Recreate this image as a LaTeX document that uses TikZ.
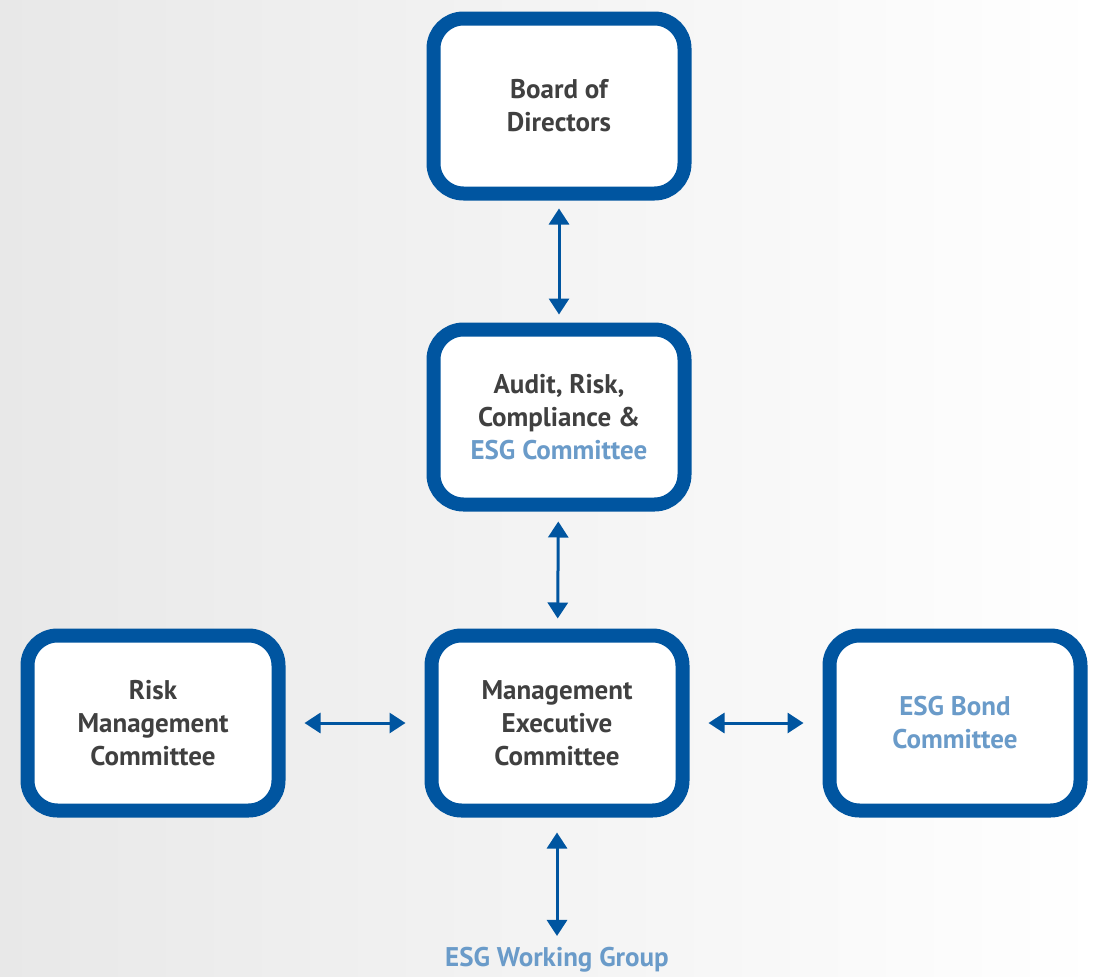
\documentclass[tikz,border=0pt]{standalone}
\usepackage{fontspec}
\setmainfont{PT Sans}
\usetikzlibrary{arrows.meta}
\definecolor{esgblue}{HTML}{0055A0}
\definecolor{esglight}{HTML}{6A9BC9}
\definecolor{txtgray}{HTML}{404040}
\tikzset{block/.style = {draw=esgblue, fill=white, line width=14pt, rectangle, rounded corners=30pt, minimum width=251pt, minimum height=175pt, align=center, text=txtgray, font=\fontsize{27}{33}\selectfont\bfseries}}
\tikzset{link/.style = {{Triangle[width=20pt,length=16pt]}-{Triangle[width=20pt,length=16pt]}, esgblue, line width=3pt}}

\begin{document}
\begin{tikzpicture}[x=1pt, y=-1pt]
    \useasboundingbox (0,0) rectangle (1101,977);
    \shade[left color=black!9, right color=white] (0,0) rectangle (1101,977);
    \node[block](board)at(559,106){Board of\\Directors};
    \node[block](audit)at(559,417){Audit, Risk,\\Compliance \&\\\textcolor{esglight}{ESG Committee}};
    \node[block](mgmt)at(557,723){Management\\Executive\\Committee};
    \node[block](risk)at(153,723){Risk\\Management\\Committee};
    \node[block, text=esglight](bond)at(955,723){ESG Bond\\Committee};
    \node[text=esglight, font=\fontsize{27}{33}\selectfont\bfseries](wg)at(557,960){ESG Working Group};
    \draw[link, shorten >=8pt, shorten <=8pt](board)--(audit);
    \draw[link, shorten >=10pt, shorten <=10pt](audit)--(mgmt);
    \draw[link, shorten >=19pt, shorten <=19pt](risk)--(mgmt);
    \draw[link, shorten >=19pt, shorten <=19pt](mgmt)--(bond);
    \draw[link, shorten >=8pt, shorten <=15pt](mgmt)--(wg);
\end{tikzpicture}
\end{document}
